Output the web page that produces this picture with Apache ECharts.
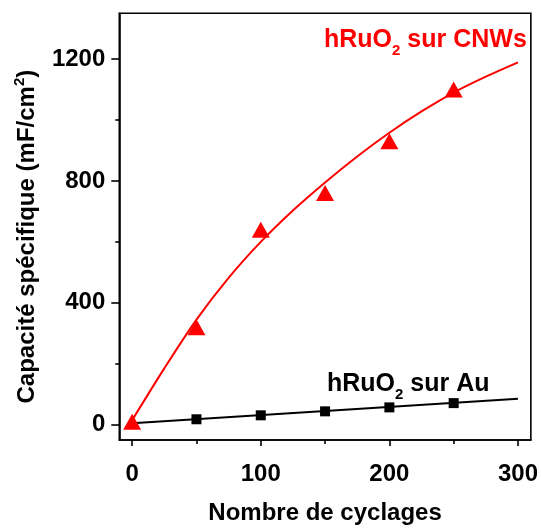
<!DOCTYPE html>
<html>
<head>
<meta charset="utf-8">
<script src="https://cdn.jsdelivr.net/npm/echarts@6/dist/echarts.min.js"></script>
<style>
html,body{margin:0;padding:0;background:#fff;}
#chart{width:541px;height:530px;}
</style>
</head>
<body>
<div id="chart"></div>
<script>
// ---- data ----
var cycles = [0, 50, 100, 150, 200, 250];
var cnwsValues = [10, 320, 640, 760, 930, 1100];
var auCycles = [50, 100, 150, 200, 250];
var auValues = [18, 31, 44, 57, 71];
var cnwsFitX = [0, 25, 50, 75, 100, 125, 150, 175, 200, 225, 250, 275, 300];
var cnwsFitY = [15, 185, 345, 482, 600, 703, 795, 880, 958, 1028, 1090, 1142, 1189];
var auFitX = [0, 300];
var auFitY = [5, 85];
var xMajorTicks = [0, 100, 200, 300];
var xMinorTicks = [50, 150, 250];
var yMajorTicks = [0, 400, 800, 1200];
var yMinorTicks = [200, 600, 1000];

function pairs(xs, ys) { return xs.map(function (x, i) { return [x, ys[i]]; }); }

var FONT = "'Liberation Sans', Arial, sans-serif";
var chart = echarts.init(document.getElementById('chart'), null, {renderer: 'canvas'});

var baseX = {type: 'value', min: -10, max: 310, gridIndex: 0};
var baseY = {type: 'value', min: -50, max: 1350, gridIndex: 0};
function plain(v) { return String(v); }

var option = {
  animation: false,
  backgroundColor: '#fff',
  grid: {left: 119.3, top: 13.3, right: 9, bottom: 82.3, show: true, borderColor: '#000', borderWidth: 1.6, backgroundColor: 'transparent'},
  xAxis: [
    Object.assign({}, baseX, {
      position: 'bottom',
      name: 'Nombre de cyclages',
      nameLocation: 'middle',
      nameGap: 61,
      nameTextStyle: {fontFamily: FONT, fontWeight: 'bold', fontSize: 24, color: '#000'},
      axisLine: {show: true, onZero: false, lineStyle: {color: '#000', width: 1.6}},
      axisTick: {show: true, inside: false, length: 6, customValues: xMajorTicks, lineStyle: {color: '#000', width: 1.6}},
      axisLabel: {show: true, customValues: xMajorTicks, formatter: plain, margin: 22, fontFamily: FONT, fontWeight: 'bold', fontSize: 24, color: '#000'},
      splitLine: {show: false}
    }),
    Object.assign({}, baseX, {
      position: 'bottom',
      axisLine: {show: false, onZero: false},
      axisTick: {show: true, inside: false, length: 4, customValues: xMinorTicks, lineStyle: {color: '#000', width: 1.6}},
      axisLabel: {show: false},
      splitLine: {show: false}
    })
  ],
  yAxis: [
    Object.assign({}, baseY, {
      position: 'left',
      name: '{a|Capacité spécifique (mF/cm}{p|2}{a|)}',
      nameLocation: 'middle',
      nameGap: 77,
      nameTextStyle: {
        fontFamily: FONT, fontWeight: 'bold', fontSize: 24, color: '#000',
        padding: [0, 20, 0, 0],
        rich: {
          a: {fontFamily: FONT, fontWeight: 'bold', fontSize: 24, color: '#000', lineHeight: 30},
          p: {fontFamily: FONT, fontWeight: 'bold', fontSize: 15, color: '#000', lineHeight: 8, verticalAlign: 'top'}
        }
      },
      axisLine: {show: true, onZero: false, lineStyle: {color: '#000', width: 1.6}},
      axisTick: {show: true, inside: false, length: 8, customValues: yMajorTicks, lineStyle: {color: '#000', width: 1.6}},
      axisLabel: {show: true, customValues: yMajorTicks, formatter: plain, margin: 14, fontFamily: FONT, fontWeight: 'bold', fontSize: 24, color: '#000'},
      splitLine: {show: false}
    }),
    Object.assign({}, baseY, {
      position: 'left',
      axisLine: {show: false, onZero: false},
      axisTick: {show: true, inside: false, length: 4, customValues: yMinorTicks, lineStyle: {color: '#000', width: 1.6}},
      axisLabel: {show: false},
      splitLine: {show: false}
    })
  ],
  series: [
    {
      name: 'fit CNWs', type: 'line', xAxisIndex: 0, yAxisIndex: 0,
      data: pairs(cnwsFitX, cnwsFitY), smooth: 0.3, showSymbol: false, symbol: 'none',
      lineStyle: {color: '#ff0000', width: 2}, z: 2
    },
    {
      name: 'fit Au', type: 'line', xAxisIndex: 0, yAxisIndex: 0,
      data: pairs(auFitX, auFitY), showSymbol: false, symbol: 'none',
      lineStyle: {color: '#000', width: 2}, z: 2
    },
    {
      name: 'hRuO2 sur CNWs', type: 'scatter', xAxisIndex: 0, yAxisIndex: 0,
      data: pairs(cycles, cnwsValues), symbol: 'triangle', symbolSize: [18, 16],
      itemStyle: {color: '#ff0000', opacity: 1}, z: 3
    },
    {
      name: 'hRuO2 sur Au', type: 'scatter', xAxisIndex: 0, yAxisIndex: 0,
      data: pairs(auCycles, auValues), symbol: 'rect', symbolSize: 10,
      itemStyle: {color: '#000', opacity: 1}, z: 3
    }
  ],
  graphic: [
    {
      type: 'text', left: 324, top: 28, z: 10,
      style: {
        text: '{a|hRuO}{s|2}{a| sur CNWs}',
        fill: '#ff0000',
        rich: {
          a: {fontFamily: FONT, fontWeight: 'bold', fontSize: 25, fill: '#ff0000', lineHeight: 36},
          s: {fontFamily: FONT, fontWeight: 'bold', fontSize: 15, fill: '#ff0000', lineHeight: 8, verticalAlign: 'bottom'}
        }
      }
    },
    {
      type: 'text', left: 327, top: 372, z: 10,
      style: {
        text: '{a|hRuO}{s|2}{a| sur Au}',
        fill: '#000',
        rich: {
          a: {fontFamily: FONT, fontWeight: 'bold', fontSize: 25, fill: '#000', lineHeight: 36},
          s: {fontFamily: FONT, fontWeight: 'bold', fontSize: 15, fill: '#000', lineHeight: 8, verticalAlign: 'bottom'}
        }
      }
    }
  ]
};
chart.setOption(option);
</script>
</body>
</html>
